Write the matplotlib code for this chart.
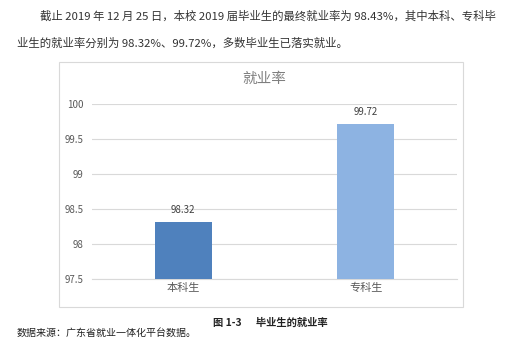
import matplotlib
matplotlib.use("Agg")
import matplotlib.pyplot as plt
from matplotlib.patches import Rectangle

plt.rcParams['font.family'] = ['Noto Sans CJK SC', 'DejaVu Sans']

categories = ["本科生", "专科生"]
values = [98.32, 99.72]
value_labels = ["98.32", "99.72"]
yticks = [97.5, 98, 98.5, 99, 99.5, 100]
ytick_labels = ["97.5", "98", "98.5", "99", "99.5", "100"]
colors = ["#4f81bd", "#8db3e2"]

W, H = 531, 359
fig = plt.figure(figsize=(W / 100, H / 100), dpi=100)
fig.patch.set_facecolor("white")

def fx(x):
    return x / W

def fy(y):
    return 1 - y / H

# chart frame
fig.patches.append(Rectangle((fx(59), fy(307)), fx(463) - fx(59), fy(62) - fy(307),
                             transform=fig.transFigure, facecolor="none",
                             edgecolor="#d9d9d9", linewidth=0.8, zorder=0))

ax = fig.add_axes([fx(92), fy(279), fx(457) - fx(92), fy(104) - fy(279)])
ax.set_zorder(2)
ax.set_facecolor("none")
x = list(range(len(categories)))
ax.bar(x, values, width=0.31, color=colors, zorder=3)
ax.set_xlim(-0.5, 1.5)
ax.set_ylim(97.5, 100)
ax.set_yticks(yticks)
ax.set_yticklabels(ytick_labels)
ax.set_xticks(x)
ax.set_xticklabels(categories)
ax.grid(axis="y", color="#d9d9d9", linewidth=0.8, zorder=0)
ax.set_axisbelow(True)
for s in ["left", "right", "top"]:
    ax.spines[s].set_visible(False)
ax.spines["bottom"].set_color("#d9d9d9")
ax.spines["bottom"].set_linewidth(0.8)
ax.tick_params(axis="y", length=0, labelsize=7, labelcolor="#595959", pad=6)
ax.tick_params(axis="x", length=0, labelsize=8, labelcolor="#595959", pad=3)
for xi, v, lab in zip(x, values, value_labels):
    ax.annotate(lab, (xi, v), xytext=(0, 5), textcoords="offset points",
                ha="center", va="bottom", fontsize=7, color="#404040")

fig.text(fx(264), fy(79), "就业率", ha="center", va="center", fontsize=10.5, color="#7f7f7f")

# surrounding text
fig.text(fx(40), fy(16), "截止 2019 年 12 月 25 日，本校 2019 届毕业生的最终就业率为 98.43%，其中本科、专科毕",
         ha="left", va="center", fontsize=8.2, color="#333333")
fig.text(fx(17), fy(43), "业生的就业率分别为 98.32%、99.72%，多数毕业生已落实就业。",
         ha="left", va="center", fontsize=8.2, color="#333333")
fig.text(fx(213), fy(323), "图 1-3      毕业生的就业率", ha="left", va="center",
         fontsize=7.4, color="#222222", fontweight="bold")
fig.text(fx(17), fy(333), "数据来源：广东省就业一体化平台数据。", ha="left", va="center",
         fontsize=7.2, color="#222222")

fig.savefig("out.png", dpi=100)
